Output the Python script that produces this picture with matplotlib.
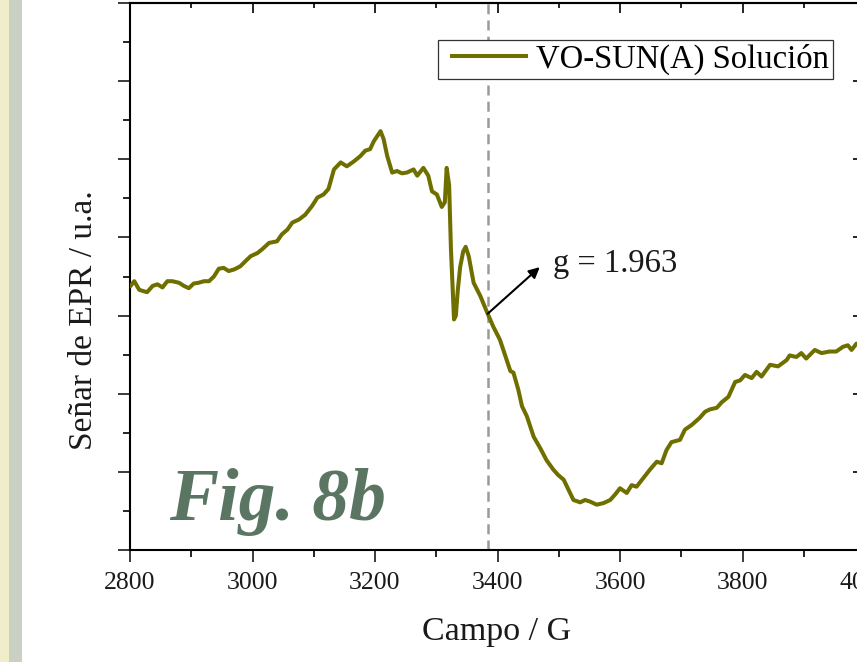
import matplotlib
matplotlib.use("Agg")
import numpy as np
import matplotlib.pyplot as plt
from matplotlib.patches import Rectangle
from matplotlib.legend_handler import HandlerLine2D
from matplotlib.lines import Line2D
from matplotlib.ticker import MultipleLocator

# EPR spectrum of VO-SUN(A) in solution
field = [2801, 2807, 2815, 2823, 2828, 2837, 2845, 2853, 2861, 2869,
         2880, 2888, 2896, 2904, 2912, 2921, 2929, 2937, 2945, 2953,
         2961, 2970, 2980, 2989, 2997, 3008, 3016, 3027, 3040, 3048,
         3057, 3065, 3076, 3086, 3097, 3106, 3116, 3124, 3133, 3144,
         3154, 3165, 3176, 3184, 3192, 3198, 3209, 3214, 3220, 3228,
         3236, 3244, 3252, 3263, 3269, 3279, 3287, 3293, 3301, 3309,
         3314, 3317, 3321, 3324, 3329, 3332, 3335, 3339, 3344, 3348,
         3353, 3361, 3372, 3382, 3393, 3404, 3412, 3421, 3426, 3434,
         3440, 3448, 3459, 3470, 3480, 3491, 3499, 3508, 3516, 3524,
         3535, 3543, 3551, 3562, 3573, 3584, 3592, 3600, 3611, 3619,
         3627, 3638, 3649, 3660, 3668, 3676, 3684, 3698, 3706, 3717,
         3730, 3739, 3747, 3758, 3766, 3777, 3788, 3796, 3804, 3815,
         3823, 3831, 3845, 3858, 3872, 3877, 3888, 3896, 3904, 3918,
         3929, 3942, 3953, 3964, 3972, 3978, 3986, 3998]
signal = [3.38, 3.44, 3.33, 3.31, 3.30, 3.38, 3.40, 3.36, 3.44, 3.44,
          3.42, 3.38, 3.35, 3.41, 3.42, 3.44, 3.44, 3.50, 3.60, 3.61,
          3.57, 3.59, 3.63, 3.70, 3.76, 3.80, 3.85, 3.93, 3.95, 4.04,
          4.10, 4.19, 4.23, 4.29, 4.40, 4.51, 4.55, 4.62, 4.87, 4.96,
          4.91, 4.97, 5.04, 5.11, 5.13, 5.23, 5.36, 5.26, 5.04, 4.83,
          4.85, 4.82, 4.83, 4.87, 4.79, 4.89, 4.79, 4.59, 4.55, 4.39,
          4.45, 4.89, 4.67, 3.85, 2.95, 3.00, 3.31, 3.62, 3.82, 3.88,
          3.76, 3.42, 3.25, 3.06, 2.86, 2.69, 2.50, 2.29, 2.27, 2.05,
          1.84, 1.71, 1.45, 1.30, 1.15, 1.03, 0.96, 0.90, 0.77, 0.64,
          0.61, 0.64, 0.62, 0.58, 0.60, 0.64, 0.71, 0.79, 0.73, 0.83,
          0.81, 0.92, 1.03, 1.13, 1.11, 1.28, 1.38, 1.41, 1.54, 1.60,
          1.69, 1.77, 1.80, 1.82, 1.89, 1.96, 2.15, 2.17, 2.24, 2.20,
          2.28, 2.22, 2.37, 2.35, 2.43, 2.49, 2.47, 2.52, 2.45, 2.56,
          2.52, 2.54, 2.54, 2.60, 2.62, 2.56, 2.64, 2.65]

g_value = 1.963
g_field = 3384
series_label = "VO-SUN(A) Solución"
x_label = "Campo / G"
y_label = "Señar de EPR / u.a."
fig_tag = "Fig. 8b"

plt.rcParams['font.family'] = ['Liberation Serif', 'DejaVu Serif']

W, H = 857, 662
fig = plt.figure(figsize=(W / 100, H / 100), dpi=100)
fig.patch.set_facecolor('white')

# page margin strips on the left
fig.patches.append(Rectangle((0, 0), 9 / W, 1, transform=fig.transFigure,
                             facecolor='#f1edcb', edgecolor='none', zorder=-5))
fig.patches.append(Rectangle((9 / W, 0), 13 / W, 1, transform=fig.transFigure,
                             facecolor='#c9d1c5', edgecolor='none', zorder=-5))

ax = fig.add_axes([130 / W, 112 / H, 735 / W, 547 / H])
ax.set_facecolor('none')

ax.plot(field, signal, color='#6f6f00', lw=2.9, solid_joinstyle='round',
        label=series_label, zorder=3)

ax.axvline(g_field, color='#9a9a9a', lw=1.8, ls=(0, (4, 2.5)), zorder=2)

tail_y = float(np.interp(g_field, field, signal))
ax.annotate('', xy=(3469, 3.62), xytext=(g_field, tail_y),
            arrowprops=dict(arrowstyle='-|>', color='black', lw=1.5,
                            mutation_scale=16, shrinkA=0, shrinkB=0),
            zorder=4)
ax.text(3491, 3.66, f'g = {g_value}', fontsize=23.5, va='center', ha='left',
        color='#1a1a1a')

ax.text(0.053, 0.055, fig_tag, transform=ax.transAxes, fontsize=53,
        fontweight='bold', fontstyle='italic', color='#5b7563',
        va='baseline', ha='left')

ax.set_xlim(2800, 4000)
ax.set_ylim(0, 7)
ax.xaxis.set_major_locator(MultipleLocator(200))
ax.xaxis.set_minor_locator(MultipleLocator(100))
ax.yaxis.set_major_locator(MultipleLocator(1))
ax.yaxis.set_minor_locator(MultipleLocator(0.5))

for side in ('left', 'bottom', 'top', 'right'):
    ax.spines[side].set_linewidth(1.5)
ax.tick_params(which='major', direction='out', length=8.5, width=1.2,
               top=False, right=False, labelleft=False, labelsize=18.5,
               pad=7, colors='#1a1a1a')
ax.tick_params(which='minor', direction='out', length=4.8, width=1.2,
               top=False, right=False)

# mirrored axes with inward ticks
top = ax.secondary_xaxis('top')
top.xaxis.set_major_locator(MultipleLocator(200))
top.xaxis.set_minor_locator(MultipleLocator(100))
top.tick_params(which='major', direction='in', length=7.2, width=1.2,
                labeltop=False)
top.tick_params(which='minor', direction='in', length=3.6, width=1.2)
top.spines['top'].set_linewidth(1.5)

right = ax.secondary_yaxis('right')
right.yaxis.set_major_locator(MultipleLocator(1))
right.yaxis.set_minor_locator(MultipleLocator(0.5))
right.tick_params(which='major', direction='in', length=8.6, width=1.2,
                  labelright=False)
right.tick_params(which='minor', direction='in', length=5, width=1.2)

leg = ax.legend(loc='upper right',
                bbox_to_anchor=((833 - 130) / 735, (550 - 40) / 547),
                bbox_transform=ax.transAxes, frameon=True, fancybox=False,
                framealpha=1, edgecolor='#333333', fontsize=23.5,
                handlelength=2.6, handletextpad=0.3, borderpad=0.12,
                borderaxespad=0,
                handler_map={Line2D: HandlerLine2D(xpad=0.31)})
leg.get_frame().set_linewidth(0.9)

fig.text(497 / W, 1 - 632 / H, x_label, fontsize=24.5, ha='center',
         va='center', color='#1a1a1a')
fig.text(84 / W, 1 - 320 / H, y_label, fontsize=24, ha='center',
         va='center', rotation=90, color='#1a1a1a')

fig.savefig('out.png', dpi=100)
